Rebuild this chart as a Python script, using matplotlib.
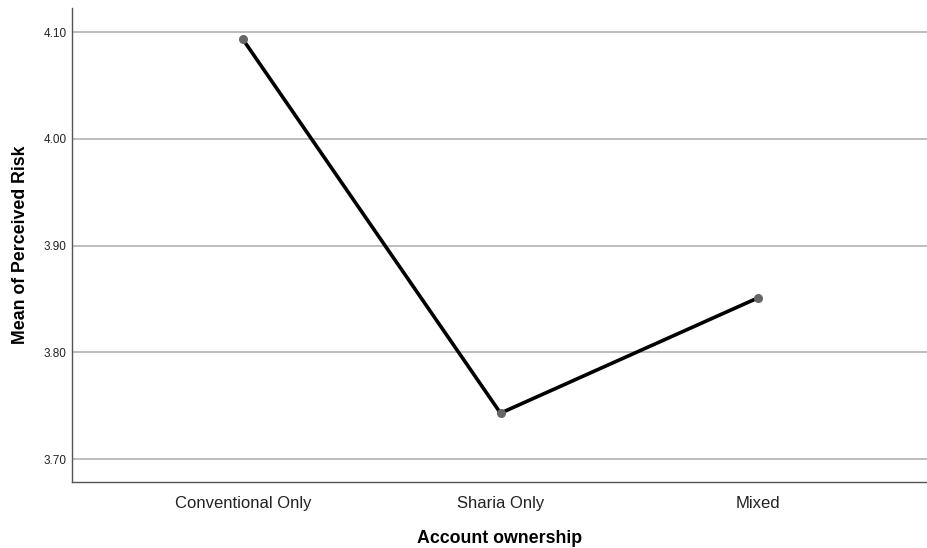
import matplotlib
matplotlib.use("Agg")
import matplotlib.pyplot as plt

categories = ["Conventional Only", "Sharia Only", "Mixed"]
means = [4.093, 3.743, 3.851]
yticks = [3.70, 3.80, 3.90, 4.00, 4.10]

plt.rcParams['font.family'] = ['Liberation Sans', 'DejaVu Sans']

fig = plt.figure(figsize=(9.28, 5.48), dpi=100)
ax = fig.add_axes([72/928, 1 - 482/548, 1 - 72/928, (482 - 8)/548])

xs = list(range(len(categories)))
ax.plot(xs, means, color="black", lw=2.6, zorder=3)
ax.plot(xs, means, "o", color="#666666", ms=5.5, zorder=4)

ax.set_xlim(-0.664, 2.66)
ax.set_ylim(3.6785, 4.1225)
ax.set_yticks(yticks)
ax.set_yticklabels([f"{v:.2f}" for v in yticks], fontsize=8.5, color="#222222")
ax.set_xticks(xs)
ax.set_xticklabels(categories, fontsize=12, color="#222222")
ax.tick_params(axis="y", length=0, pad=4)
ax.tick_params(axis="x", length=0, pad=10)
ax.grid(axis="y", color="#b8b8b8", lw=1.3)
ax.set_axisbelow(True)

for s in ["top", "right"]:
    ax.spines[s].set_visible(False)
for s in ["left", "bottom"]:
    ax.spines[s].set_color("#555555")
    ax.spines[s].set_linewidth(1.0)

ax.set_xlabel("Account ownership", fontsize=12.8, fontweight="bold", labelpad=14)
ax.set_ylabel("Mean of Perceived Risk", fontsize=12.8, fontweight="bold")
ax.yaxis.set_label_coords(-0.05, 0.5)

fig.savefig("out.png", dpi=100)
